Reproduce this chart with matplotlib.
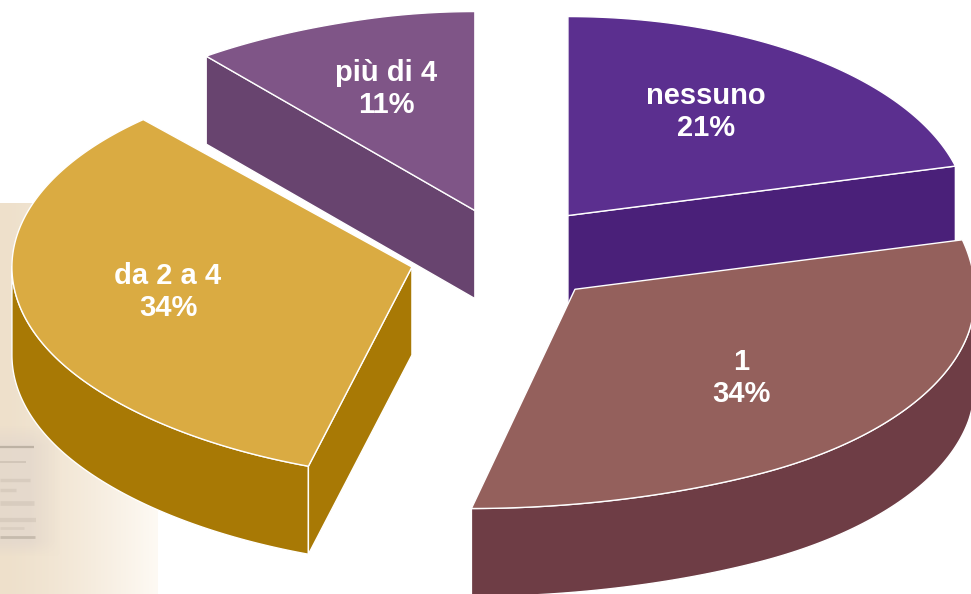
import matplotlib.pyplot as plt
import numpy as np
from matplotlib.patches import Polygon

categories = ['nessuno', '1', 'da 2 a 4', 'più di 4']
shares = [21, 34, 34, 11]
top_colors = ['#5B2F8F', '#94605C', '#DAAB42', '#7F5587']
side_colors = ['#4A2079', '#6E3D45', '#A87905', '#68446F']

width_px, height_px = 971, 594
center_x, center_y = 508, 255.5
radius_x, radius_y = 400, 199
explode = 0.2445
roll = 0.025
depth = 88

# small correction of the 3d view, in degrees around the pie
twist_at = [0, 75.6, 198, 320.4, 360]
twist_by = [0, 0, 3, 2.6, 0]
# the near rim of the pie sags a little towards the viewer
sag_angle = 195
sag_reach = 42
near_sag = [0, 19, 7, 0]
rim_sag = [0, 8, 0, 0]
# the far left corner of the last slice sits a bit higher
corner_lift = [0, 0, 0, 7]


def project(angle, apex, start, sag, rim, lift):
    # angle is clockwise from twelve o'clock, in degrees
    angle = np.asarray(angle, dtype=float)
    view = angle - np.interp(angle, twist_at, twist_by)
    ramp = np.clip((angle - start) / 25, 0, 1)
    drop = sag * np.clip(1 - np.abs(view - sag_angle) / sag_reach, 0, 1) ** 2
    drop = drop + rim * ramp - lift * (1 - ramp) ** 2
    view = np.radians(view)
    return np.column_stack([apex[0] + radius_x * np.sin(view),
                            apex[1] - radius_y * np.cos(view) + drop])


def draw_backdrop(ax):
    fade = np.linspace(0, 1, 160)
    rgb = np.array([238, 224, 203]) + np.outer(fade ** 1.4, [16, 26, 41])
    ax.imshow(rgb[None, :, :] / 255, extent=(0, 158, 594, 203), aspect='auto', zorder=0)
    # soft worn patch low on the paper
    yy, xx = np.mgrid[425:556, 0:60]
    patch = np.zeros(xx.shape + (4,))
    patch[..., :3] = np.array([226, 214, 204]) / 255
    patch[..., 3] = 0.7 * np.clip((60 - xx) / 30, 0, 1) * np.clip((yy - 425) / 20, 0, 1) * np.clip((556 - yy) / 15, 0, 1)
    ax.imshow(patch, extent=(0, 60, 556, 425), aspect='auto', zorder=0.5)
    ax.set_xlim(0, width_px)
    ax.set_ylim(height_px, 0)
    # worn streaks on the paper
    for y, x_end, lw, alpha in [(447, 34, 1.6, 0.45), (462, 26, 1.4, 0.22), (480, 30, 2.4, 0.14),
                                (490, 16, 2.4, 0.14), (503, 34, 3.4, 0.14), (520, 36, 3.0, 0.14),
                                (528, 24, 2.0, 0.12), (537, 35, 2.0, 0.35)]:
        ax.plot([0, x_end], [y, y], color='#8E8375', lw=lw, alpha=alpha, zorder=0.6,
                solid_capstyle='butt')


def draw_slice(ax, start, end, apex, top_color, side_color, sag, rim, lift, order):
    def rim_at(angle):
        return project(angle, apex, start, sag, rim, lift)

    arc = rim_at(np.linspace(start, end, 160))
    shift = np.array([0, depth])
    style = {'edgecolor': 'white', 'linewidth': 1.0, 'joinstyle': 'round', 'zorder': order}
    # rounded outer wall, only the part that faces the viewer
    near_start, near_end = max(start, 90), min(end, 273)
    if near_end > near_start:
        near = rim_at(np.linspace(near_start, near_end, 120))
        ax.add_patch(Polygon(np.vstack([near, near[::-1] + shift]), facecolor=side_color, **style))
    # flat cut walls that turn towards the viewer
    walls = []
    if np.sin(np.radians(start)) < -1e-6:
        walls.append(arc[0])
    if np.sin(np.radians(end)) > 1e-6:
        walls.append(arc[-1])
    for corner in walls:
        wall = np.array([apex, corner, corner + shift, np.array(apex) + shift])
        ax.add_patch(Polygon(wall, facecolor=side_color, **style))
    ax.add_patch(Polygon(np.vstack([[apex], arc]), facecolor=top_color, **style))


fig = plt.figure(figsize=(width_px / 100, height_px / 100), dpi=100, facecolor='white')
ax = fig.add_axes([0, 0, 1, 1])
ax.axis('off')
draw_backdrop(ax)

edges = np.concatenate([[0], np.cumsum(shares)]) / np.sum(shares) * 360
apexes = []
for i in range(len(shares)):
    middle = np.radians((edges[i] + edges[i + 1]) / 2)
    apex_x = center_x + explode * radius_x * np.sin(middle)
    apex_y = center_y - explode * radius_y * np.cos(middle) - roll * (apex_x - center_x)
    apexes.append((apex_x, apex_y))

# back slices first so the front ones cover them
for order, i in enumerate([3, 0, 2, 1]):
    draw_slice(ax, edges[i], edges[i + 1], apexes[i], top_colors[i], side_colors[i],
               near_sag[i], rim_sag[i], corner_lift[i], 2 + order)

label_spots = [(706, 112), (741, 378), (168, 292), (386, 89)]
for name, share, spot in zip(categories, shares, label_spots):
    ax.text(spot[0], spot[1], f'{name}\n{share}%', color='white', ha='center', va='center',
            family='Liberation Sans', fontweight='bold', fontsize=21, zorder=10)

fig.savefig('out.png', dpi=100, facecolor='white')
